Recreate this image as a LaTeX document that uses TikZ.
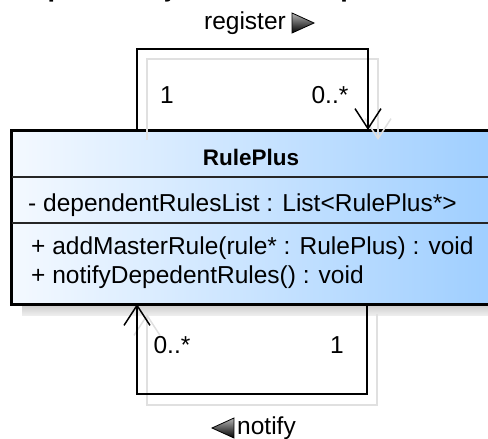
\documentclass[tikz,border=0pt]{standalone}
\usepackage{fontspec}
\setmainfont{Liberation Sans}
\usetikzlibrary{arrows.meta}
\usetikzlibrary{positioning,calc}
\definecolor{classleft}{HTML}{F4F9FF}
\definecolor{classright}{HTML}{9ECEFF}

\begin{document}
\begin{tikzpicture}[x=1pt,y=-1pt,
         umltext/.style = {inner sep=0pt, font=\fontsize{24.5}{28}\selectfont},
         classbox/.style = {draw, line width=3pt, left color=classleft,
            right color=classright, minimum width=484pt, minimum height=174pt,
            inner sep=0pt},
         assoc/.style = {line width=1.5pt, black},
         assocshadow/.style = {line width=1.5pt, black!12},
         openhead/.style = {-{Straight Barb[length=20pt,width=26pt]}},
         dirtip/.style = {draw=black, line width=0.8pt, top color=gray!60,
            bottom color=black}
]
      \useasboundingbox (0,0) rectangle (488,439);
      \clip (0,0) rectangle (488,439);

      \node[anchor=base west, inner sep=0pt,
         font=\bfseries\fontsize{27}{30}\selectfont] (title) at (13,-3)
         {Representação real da dependência entre regras};

      % shadow of the class
      \fill[top color=black!22, bottom color=black!7] (22,303) rectangle (500,315);

      \node[classbox] (rule) at (253.5,217) {};
      \draw[line width=1.2pt, black!85] (11.5,177) -- (496,177);
      \draw[line width=1.2pt, black!85] (11.5,223) -- (496,223);

      \node[umltext, font=\bfseries\fontsize{22.5}{27}\selectfont] (name) at (251,157) {RulePlus};
      \node[umltext, anchor=west] (attr) at (28,205) {- dependentRulesList : List<RulePlus*>};
      \node[umltext, anchor=west] (op1) at (31,248) {+ addMasterRule(rule* : RulePlus) : void};
      \node[umltext, anchor=west] (op2) at (31,277) {+ notifyDepedentRules() : void};

      % ends of the two self associations
      \coordinate (regA) at (137,130);
      \coordinate (regB) at (368,130);
      \coordinate (notA) at (367,304);
      \coordinate (notB) at (137,304);

      \draw[assocshadow, openhead] ($(regA)+(10,10)$) -- ++(0,-81) -| ($(regB)+(10,10)$);
      \draw[assocshadow, openhead] ($(notA)+(10,10)$) -- ++(0,91) -| ($(notB)+(10,10)$);

      \draw[assoc, openhead] (regA) -- ++(0,-81) -| (regB);
      \draw[assoc, openhead] (notA) -- ++(0,90) -| (notB);

      \node[umltext] (m1) at (167,95) {1};
      \node[umltext] (m2) at (330,95) {0..*};
      \node[umltext] (m3) at (172,345) {0..*};
      \node[umltext] (m4) at (337,345) {1};

      \node[umltext] (reglabel) at (245,23) {register};
      \draw[dirtip] ($(reglabel.east)+(6,-10)$) -- ++(22,10) -- ++(-22,10) -- cycle;

      \node[umltext, anchor=west] (notlabel) at (237,428) {notify};
      \draw[dirtip] ($(notlabel.west)+(-3,-10)$) -- ++(-22,10) -- ++(22,10) -- cycle;
\end{tikzpicture}
\end{document}
